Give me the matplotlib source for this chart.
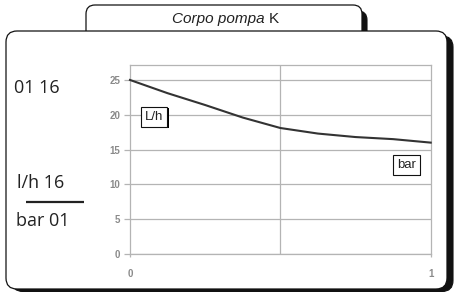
"""
Pump body K curve: flow (L/h) against pressure (bar), catalogue-style panel.
Output: out.png
"""

import matplotlib
matplotlib.use("Agg")
import matplotlib.pyplot as plt
from matplotlib.patches import FancyBboxPatch
from matplotlib import patheffects as pe

# Curve
PRESSURE_BAR = [0.0, 0.125, 0.25, 0.375, 0.5, 0.625, 0.75, 0.875, 1.0]
FLOW_LH = [25.0, 23.1, 21.4, 19.6, 18.1, 17.3, 16.8, 16.5, 16.0]
Y_TICKS = [0, 5, 10, 15, 20, 25]
X_TICKS = [0, 1]
TITLE_ITALIC = "Corpo pompa"
TITLE_REGULAR = "K"
SIDE_TOP = "01 16"
SIDE_NUM = "l/h 16"
SIDE_DEN = "bar 01"

W, H = 465, 292
GRID = "#b4b4b4"
TICK_TXT = "#8a8a8a"
INK = "#222222"

fig = plt.figure(figsize=(W / 100, H / 100), dpi=100)
fig.patch.set_facecolor("white")

# background layer in pixel coordinates (y down)
bg = fig.add_axes([0, 0, 1, 1])
bg.set_xlim(0, W)
bg.set_ylim(H, 0)
bg.axis("off")


def rbox(x0, y0, x1, y1, face, edge, lw, r, z):
    p = FancyBboxPatch((x0, y0), x1 - x0, y1 - y0,
                       boxstyle=f"round,pad=0,rounding_size={r}",
                       facecolor=face, edgecolor=edge, linewidth=lw, zorder=z)
    bg.add_patch(p)


# tab with shadow, then main frame with shadow (shadow = offset dark box behind)
rbox(91, 11, 367, 44, "#111111", "#111111", 0.8, 9, 1)
rbox(86, 5, 362, 44, "white", "#111111", 0.9, 9, 2)
rbox(12, 36, 453, 291.5, "#111111", "#111111", 0.8, 11, 3)
rbox(6, 31, 447, 289, "white", "#111111", 0.9, 11, 4)

bg.text(265, 19, TITLE_ITALIC, ha="right", va="center", fontsize=11,
        style="italic", family="Liberation Sans", color=INK, zorder=5)
bg.text(269, 19, TITLE_REGULAR, ha="left", va="center", fontsize=11,
        family="Liberation Sans", color=INK, zorder=5)

side_font = dict(family="Open Sans", fontsize=13, color=INK, va="center", ha="left", zorder=5)
bg.text(14, 88, SIDE_TOP, **side_font)
bg.text(17, 183, SIDE_NUM, **side_font)
bg.text(16, 221, SIDE_DEN, **side_font)
bg.plot([26, 84], [202, 202], color=INK, lw=1.6, zorder=5, solid_capstyle="butt")

# chart area
ax = fig.add_axes([130 / W, (H - 254) / H, 300.7 / W, (254 - 65) / H])
ax.set_zorder(6)
ax.patch.set_alpha(0)
ax.set_xlim(0, 1)
ax.set_ylim(0, 27.15)

ax.set_yticks(Y_TICKS)
ax.set_xticks(X_TICKS)
ax.yaxis.grid(True, color=GRID, lw=0.9)
ax.axvline(0.5, color=GRID, lw=0.9, zorder=1)
for s in ax.spines.values():
    s.set_color(GRID)
    s.set_linewidth(0.9)
ax.tick_params(axis="y", length=4, width=0.9, color=GRID, labelcolor=TICK_TXT,
               labelsize=7, pad=3)
ax.tick_params(axis="x", length=2, width=0.9, color=GRID, labelcolor=TICK_TXT,
               labelsize=7, pad=9)
for lab in ax.get_xticklabels() + ax.get_yticklabels():
    lab.set_fontweight("bold")
    lab.set_family("Liberation Sans")

ax.plot(PRESSURE_BAR, FLOW_LH, color="#333333", lw=1.5, zorder=3, clip_on=False)

shadow = [pe.SimplePatchShadow(offset=(1, -1), shadow_rgbFace="black", alpha=1), pe.Normal()]
for label, (tx, ty) in (("L/h", (0.08, 19.7)), ("bar", (0.92, 12.8))):
    t = ax.text(tx, ty, label, ha="center", va="center", fontsize=9.5,
                family="Liberation Sans", color=INK, zorder=4,
                bbox=dict(boxstyle="square,pad=0.3", facecolor="white",
                          edgecolor="#111111", linewidth=0.8))
    t.get_bbox_patch().set_path_effects(shadow)

fig.savefig("out.png", dpi=100, facecolor="white")
